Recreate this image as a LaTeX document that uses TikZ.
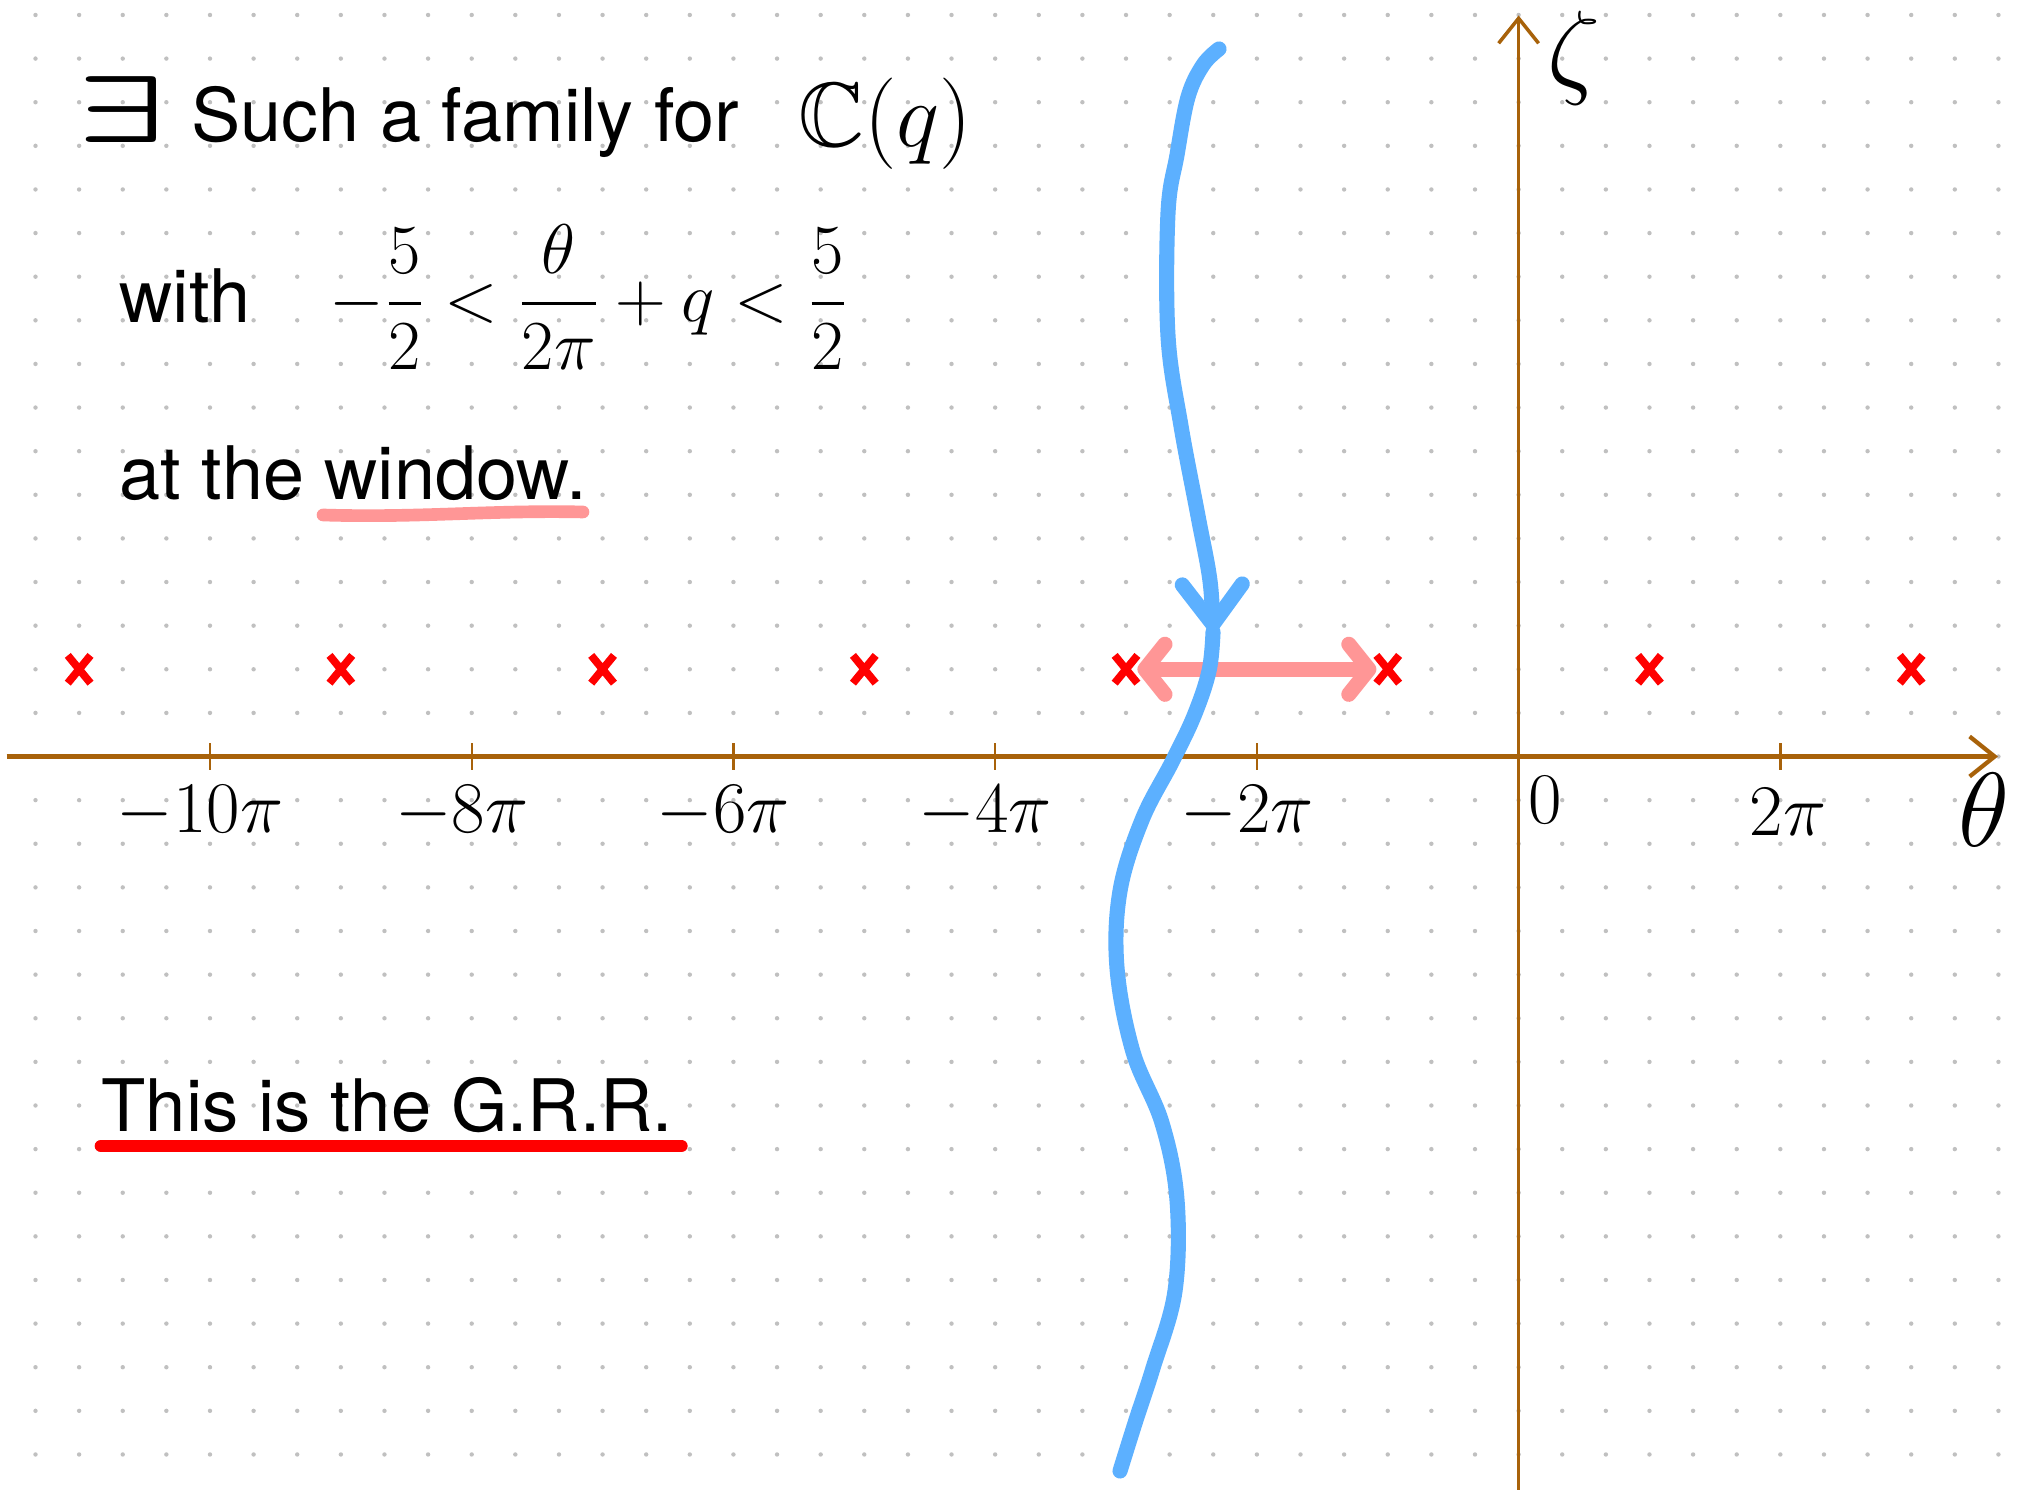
\RequirePackage{fix-cm}
\documentclass[tikz,border=0pt]{standalone}
\usepackage{amsmath}
\usepackage{amssymb}
\usepackage{graphicx}
\usepackage[no-math]{fontspec}
\setmainfont{TeX Gyre Heros}
\usetikzlibrary{arrows.meta, shapes.misc, calc}

\definecolor{axisbrown}{RGB}{168,98,10}
\definecolor{skyblue}{RGB}{92,176,255}
\definecolor{pinkish}{RGB}{255,150,150}
\definecolor{griddot}{RGB}{192,192,192}

\begin{document}
\begin{tikzpicture}[
  txt/.style={font=\fontsize{21}{25}\selectfont, inner sep=0pt},
  hand/.style={font=\fontsize{20.7}{24}\selectfont, inner sep=0pt},
  ax/.style={axisbrown, line width=1.2pt, -{Straight Barb[length=2.5mm, width=4mm]}},
  axtick/.style={axisbrown, line width=0.7pt},
  cross/.style={cross out, draw=red, line width=2.2pt, minimum width=1.5mm, minimum height=2mm, inner sep=0pt},
  curve/.style={skyblue, line width=4.3pt, line cap=round, line join=round},
  ul/.style={line width=3.6pt, line cap=round}
]
  % paper and dot grid
  \fill[white] (0,0) rectangle (20.24,14.90);
  \useasboundingbox (0,0) rectangle (20.24,14.90);
  \foreach \i in {0,...,45}
    \foreach \j in {0,...,33}
      \fill[griddot] ({0.355+0.4362*\i},{14.75-0.4362*\j}) circle (0.022);

  % axes
  \coordinate (xstart) at (0.065,7.335);
  \coordinate (xend) at (19.98,7.335);
  \coordinate (ystart) at (15.186,0);
  \coordinate (yend) at (15.186,14.745);
  \draw[ax] (xstart) -- (xend);
  \draw[ax, line width=1pt] (ystart) -- (yend);

  % ticks and their labels
  \foreach \k in {-10,-8,-6,-4,-2,2}
    \draw[axtick] ({15.186+1.3086*\k},7.20) -- ({15.186+1.3086*\k},7.47);
  \foreach \k [count=\c] in {-10,-8,-6,-4,-2}
    \node[hand] (tl\c) at ({15.186+1.3086*\k-0.1},6.78) {$\k\pi$};
  \node[hand] (tl0) at (15.45,6.90) {$0$};
  \node[hand] (tl6) at (17.88,6.78) {$2\pi$};
  \node[font=\fontsize{30}{34}\selectfont, inner sep=0pt] (thetalab) at (19.84,6.80) {$\theta$};
  \node[font=\fontsize{30}{34}\selectfont, inner sep=0pt] (zetalab) at (15.74,14.32) {$\zeta$};

  % poles at odd multiples of pi
  \foreach \n [count=\c] in {-11,-9,...,3}
    \node[cross] (c\c) at ({15.186+1.3086*\n},8.207) {};

  % the window
  \draw[pinkish, line width=4.3pt, line cap=round,
    {Straight Barb[length=2mm, width=5mm, round]}-{Straight Barb[length=2mm, width=5mm, round]}] (c5) -- (c6);

  % contour
  \draw[curve, -{Straight Barb[length=4mm, width=6mm, round]}] plot[smooth, tension=0.6] coordinates {
    (12.19,14.41) (12.03,14.25) (11.88,13.93) (11.77,13.35) (11.68,12.77)
    (11.68,11.54) (11.81,10.64) (11.98,9.74) (12.10,9.09) (12.13,8.58)};
  \draw[curve] plot[smooth, tension=0.6] coordinates {
    (12.13,8.58) (12.09,8.19) (11.94,7.74) (11.72,7.28) (11.42,6.70)
    (11.20,5.99) (11.17,5.22) (11.33,4.38) (11.62,3.67) (11.77,2.90)
    (11.75,1.99) (11.53,1.22) (11.36,0.70) (11.20,0.19)};

  % text
  \node[font=\fontsize{27}{31}\selectfont, inner sep=0pt] (ex) at (1.21,13.80) {\scalebox{1.45}[1]{$\boldsymbol{\exists}$}};
  \node[txt, anchor=base west] (such) at (1.91,13.48) {Such a family for};
  \node[font=\fontsize{26}{30}\selectfont, inner sep=0pt] (cq) at (8.85,13.66) {$\mathbb{C}(q)$};
  \node[txt, anchor=base west] (with) at (1.19,11.67) {with};
  \node[font=\fontsize{20}{24}\selectfont, inner sep=0pt, anchor=west] (ineq) at (3.29,11.93)
    {$\displaystyle -\frac{5}{2} < \frac{\theta}{2\pi} + q < \frac{5}{2}$};
  \node[txt, anchor=base west] (win) at (1.19,9.90) {at the window.};
  \draw[ul, pinkish] (3.23,9.75) .. controls (4.2,9.72) and (4.9,9.80) .. (5.83,9.78);
  \node[txt, font=\fontsize{20.6}{25}\selectfont, anchor=base west] (grr) at (1.01,3.58) {This is the G.R.R.};
  \draw[ul, red] ([yshift=-0.14cm]grr.base west) -- ([xshift=0.08cm, yshift=-0.14cm]grr.base east);
\end{tikzpicture}
\end{document}
